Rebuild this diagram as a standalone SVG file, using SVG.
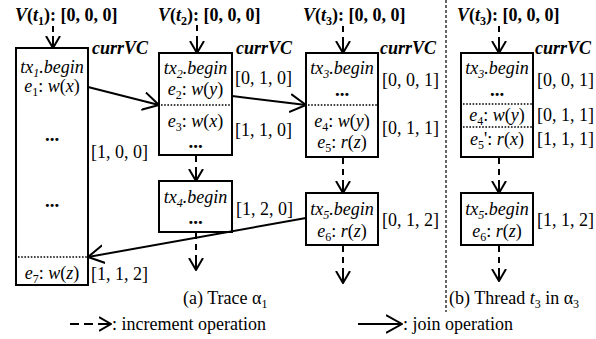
<svg xmlns="http://www.w3.org/2000/svg" width="596" height="339" viewBox="0 0 596 339" font-family="'Liberation Serif', 'Times New Roman', Times, serif">
<style>
text{font-family:'Liberation Serif','Times New Roman',Times,serif;font-size:18px;fill:#000}
.i{font-style:italic}
.b{font-weight:bold}
.m{text-anchor:middle}
.s{font-size:12px}
.d{font-weight:bold;font-size:19px}
.box{fill:#fff;stroke:#000;stroke-width:2}
.dot{stroke:#000;stroke-width:1.6;stroke-dasharray:1.6 1.6;fill:none}
.inc{stroke:#000;stroke-width:2;stroke-dasharray:6 5;fill:none;marker-end:url(#vhead)}
.join{stroke:#000;stroke-width:2;fill:none;marker-end:url(#jhead)}
.div{stroke:#000;stroke-width:1.2;stroke-dasharray:3 2;fill:none}
</style>
<defs>
<marker id="vhead" viewBox="0 0 13 16" refX="12" refY="8" markerWidth="13" markerHeight="16" markerUnits="userSpaceOnUse" orient="auto">
<path d="M0,1 L12,8 L0,15 M0,8 L12,8" fill="none" stroke="#000" stroke-width="2" stroke-dasharray="none"/>
</marker>
<marker id="jhead" viewBox="0 0 17 20" refX="16" refY="10" markerWidth="17" markerHeight="20" markerUnits="userSpaceOnUse" orient="auto">
<path d="M0,1 L16,10 L0,19" fill="none" stroke="#000" stroke-width="2"/>
</marker>
</defs>

<g id="headers">
<text x="15" y="21" class="b"><tspan class="i">V</tspan>(<tspan class="i">t</tspan><tspan class="s" dy="4">1</tspan><tspan dy="-4">): [0, 0, 0]</tspan></text>
<text x="158" y="21" class="b"><tspan class="i">V</tspan>(<tspan class="i">t</tspan><tspan class="s" dy="4">2</tspan><tspan dy="-4">): [0, 0, 0]</tspan></text>
<text x="303" y="21" class="b"><tspan class="i">V</tspan>(<tspan class="i">t</tspan><tspan class="s" dy="4">3</tspan><tspan dy="-4">): [0, 0, 0]</tspan></text>
<text x="457" y="21" class="b"><tspan class="i">V</tspan>(<tspan class="i">t</tspan><tspan class="s" dy="4">3</tspan><tspan dy="-4">): [0, 0, 0]</tspan></text>
</g>

<line id="divider" class="div" x1="446" y1="0" x2="446" y2="312"/>

<g id="tx1">
<rect class="box" x="16" y="48" width="72" height="237"/>
<text x="52" y="73" class="m i">tx<tspan class="s" dy="4">1</tspan><tspan dy="-4">.begin</tspan></text>
<text x="52" y="92" class="m"><tspan class="i">e</tspan><tspan class="s" dy="4">1</tspan><tspan dy="-4">: </tspan><tspan class="i">w</tspan>(<tspan class="i">x</tspan>)</text>
<text x="52" y="141" class="m d">...</text>
<text x="52" y="207" class="m d">...</text>
<line class="dot" x1="18" y1="257" x2="87" y2="257"/>
<text x="52" y="279" class="m"><tspan class="i">e</tspan><tspan class="s" dy="4">7</tspan><tspan dy="-4">: </tspan><tspan class="i">w</tspan>(<tspan class="i">z</tspan>)</text>
<text x="92" y="54" class="b i">currVC</text>
<text x="91" y="158">[1, 0, 0]</text>
<text x="91" y="280">[1, 1, 2]</text>
</g>

<g id="tx2">
<rect class="box" x="159" y="53" width="73" height="102"/>
<text x="195.5" y="74" class="m i">tx<tspan class="s" dy="4">2</tspan><tspan dy="-4">.begin</tspan></text>
<text x="195.5" y="95" class="m"><tspan class="i">e</tspan><tspan class="s" dy="4">2</tspan><tspan dy="-4">: </tspan><tspan class="i">w</tspan>(<tspan class="i">y</tspan>)</text>
<line class="dot" x1="161" y1="105" x2="231" y2="105"/>
<text x="195.5" y="127" class="m"><tspan class="i">e</tspan><tspan class="s" dy="4">3</tspan><tspan dy="-4">: </tspan><tspan class="i">w</tspan>(<tspan class="i">x</tspan>)</text>
<text x="195.5" y="148" class="m d">...</text>
<text x="236" y="54" class="b i">currVC</text>
<text x="235" y="84">[0, 1, 0]</text>
<text x="235" y="136">[1, 1, 0]</text>
</g>

<g id="tx4">
<rect class="box" x="159" y="181" width="73" height="51"/>
<text x="195.5" y="203" class="m i">tx<tspan class="s" dy="4">4</tspan><tspan dy="-4">.begin</tspan></text>
<text x="195.5" y="224" class="m d">...</text>
<text x="236" y="215">[1, 2, 0]</text>
</g>

<g id="tx3">
<rect class="box" x="306" y="53" width="72" height="104"/>
<text x="342" y="74" class="m i">tx<tspan class="s" dy="4">3</tspan><tspan dy="-4">.begin</tspan></text>
<text x="342" y="96" class="m d">...</text>
<line class="dot" x1="308" y1="105" x2="377" y2="105"/>
<text x="342" y="127" class="m"><tspan class="i">e</tspan><tspan class="s" dy="4">4</tspan><tspan dy="-4">: </tspan><tspan class="i">w</tspan>(<tspan class="i">y</tspan>)</text>
<text x="342" y="148" class="m"><tspan class="i">e</tspan><tspan class="s" dy="4">5</tspan><tspan dy="-4">: </tspan><tspan class="i">r</tspan>(<tspan class="i">z</tspan>)</text>
<text x="380" y="54" class="b i">currVC</text>
<text x="382" y="86">[0, 0, 1]</text>
<text x="382" y="134">[0, 1, 1]</text>
</g>

<g id="tx5">
<rect class="box" x="306" y="193" width="72" height="52"/>
<text x="342" y="215" class="m i">tx<tspan class="s" dy="4">5</tspan><tspan dy="-4">.begin</tspan></text>
<text x="342" y="237" class="m"><tspan class="i">e</tspan><tspan class="s" dy="4">6</tspan><tspan dy="-4">: </tspan><tspan class="i">r</tspan>(<tspan class="i">z</tspan>)</text>
<text x="382" y="226">[0, 1, 2]</text>
</g>

<g id="tx3b">
<rect class="box" x="461" y="53" width="72" height="104"/>
<text x="497" y="74" class="m i">tx<tspan class="s" dy="4">3</tspan><tspan dy="-4">.begin</tspan></text>
<text x="497" y="96" class="m d">...</text>
<line class="dot" x1="463" y1="104" x2="532" y2="104"/>
<text x="497" y="121" class="m"><tspan class="i">e</tspan><tspan class="s" dy="4">4</tspan><tspan dy="-4">: </tspan><tspan class="i">w</tspan>(<tspan class="i">y</tspan>)</text>
<line class="dot" x1="463" y1="127" x2="532" y2="127"/>
<text x="497" y="145" class="m"><tspan class="i">e</tspan><tspan class="s" dy="4">5</tspan><tspan dy="-4">': </tspan><tspan class="i">r</tspan>(<tspan class="i">x</tspan>)</text>
<text x="535" y="54" class="b i">currVC</text>
<text x="537" y="86">[0, 0, 1]</text>
<text x="537" y="121">[0, 1, 1]</text>
<text x="537" y="145">[1, 1, 1]</text>
</g>

<g id="tx5b">
<rect class="box" x="461" y="193" width="72" height="52"/>
<text x="497" y="215" class="m i">tx<tspan class="s" dy="4">5</tspan><tspan dy="-4">.begin</tspan></text>
<text x="497" y="237" class="m"><tspan class="i">e</tspan><tspan class="s" dy="4">6</tspan><tspan dy="-4">: </tspan><tspan class="i">r</tspan>(<tspan class="i">z</tspan>)</text>
<text x="537" y="226">[1, 1, 2]</text>
</g>

<g id="connectors">
<path class="inc" d="M53,26 L53,48"/>
<path class="inc" d="M197,25 L197,53"/>
<path class="inc" d="M343,26 L343,53"/>
<path class="inc" d="M499,26 L499,53"/>
<path class="inc" d="M196,156 L196,181"/>
<path class="inc" d="M196,233 L196,270"/>
<path class="inc" d="M343,158 L343,193"/>
<path class="inc" d="M343,246 L343,283"/>
<path class="inc" d="M499,158 L499,193"/>
<path class="inc" d="M499,246 L499,281"/>
<path class="join" d="M88,87 L159,105"/>
<path class="join" d="M232,96 L306,105"/>
<path class="join" d="M306,218 L88,257"/>
</g>

<g id="captions">
<text x="183" y="304">(a) Trace α<tspan class="s" dy="4">1</tspan></text>
<text x="449" y="304">(b) Thread <tspan class="i">t</tspan><tspan class="s" dy="4">3</tspan><tspan dy="-4"> in α</tspan><tspan class="s" dy="4">3</tspan></text>
</g>

<g id="legend">
<line x1="70" y1="324" x2="79" y2="324" stroke="#000" stroke-width="2"/>
<line x1="84" y1="324" x2="93" y2="324" stroke="#000" stroke-width="2"/>
<path d="M98,324 L111,324" stroke="#000" stroke-width="2" fill="none" marker-end="url(#vhead)"/>
<text x="112" y="330">: increment operation</text>
<path class="join" d="M358,324 L402,324"/>
<text x="403" y="330">: join operation</text>
</g>
</svg>
